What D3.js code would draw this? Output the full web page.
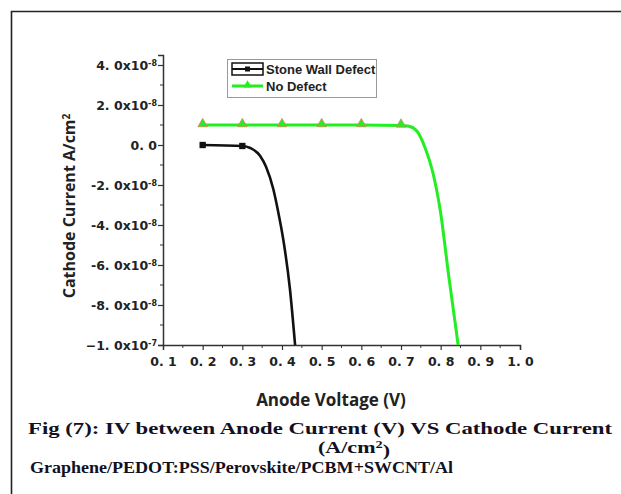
<!DOCTYPE html>
<html lang="en">
<head>
<meta charset="UTF-8">
<title>iv-curve</title>
<style>
  body { margin: 0; background: #fff; }
  svg { display: block; }
</style>
</head>
<body>
<div id="container"></div>
<script src="https://cdn.jsdelivr.net/npm/d3@7"></script>
<script>
// series data (voltage in V, current in A/cm^2)
var stoneVoltage = [0.2, 0.3, 0.32, 0.345, 0.36, 0.378, 0.39, 0.403, 0.42, 0.433];
var stoneCurrent = [0.0, -0.05e-8, -0.15e-8, -0.55e-8, -1.1e-8, -2.2e-8, -3.3e-8, -4.7e-8, -7.2e-8, -1.0e-7];
var stoneMarkers = [0.2, 0.3];

var noDefVoltage = [0.2, 0.3, 0.4, 0.5, 0.6, 0.7, 0.72, 0.74, 0.76, 0.78, 0.8, 0.82, 0.84, 0.844];
var noDefCurrent = [1.0e-8, 1.0e-8, 1.0e-8, 1.0e-8, 1.0e-8, 0.98e-8, 0.94e-8, 0.7e-8, -0.1e-8, -1.35e-8, -3.4e-8, -6.5e-8, -9.4e-8, -1.0e-7];
var noDefMarkers = [0.2, 0.3, 0.4, 0.5, 0.6, 0.7];

var xTicks = [0.1, 0.2, 0.3, 0.4, 0.5, 0.6, 0.7, 0.8, 0.9, 1.0];
var yTicks = [4e-8, 2e-8, 0, -2e-8, -4e-8, -6e-8, -8e-8, -1e-7];
var seriesNames = ["Stone Wall Defect", "No Defect"];

var W = 621, H = 494;
var svg = d3.select("#container").append("svg")
    .attr("width", W)
    .attr("height", H);

// frame (only top and left edges show)
svg.append("path")
    .attr("d", "M11.5," + H + "V11.5H" + W)
    .attr("fill", "none")
    .attr("stroke", "#222")
    .attr("stroke-width", 1.6);

var x = d3.scaleLinear().domain([0.1, 1.0]).range([163, 520]);
var y = d3.scaleLinear().domain([-1e-7, 4.5e-8]).range([345, 55]);

// minor ticks
var xMinor = d3.range(0.15, 1.0, 0.1);
var yMinor = [3e-8, 1e-8, -1e-8, -3e-8, -5e-8, -7e-8, -9e-8];

var xAxis = svg.append("g")
    .attr("transform", "translate(0," + y.range()[0] + ")")
    .call(d3.axisBottom(x).tickValues(xTicks).tickSize(5).tickPadding(7)
      .tickFormat(function(d) { return d.toFixed(1).replace(".", ". "); }));
xAxis.selectAll(".tick").filter(function(d) { return d === 0.1; }).select("line").remove();
xAxis.append("g").selectAll("line").data(xMinor).enter().append("line")
    .attr("x1", function(d) { return x(d); }).attr("x2", function(d) { return x(d); })
    .attr("y1", 0).attr("y2", 3)
    .attr("stroke", "#333");

var yAxis = svg.append("g")
    .attr("transform", "translate(" + x.range()[0] + ",0)")
    .call(d3.axisLeft(y).tickValues(yTicks).tickSize(5).tickPadding(3).tickFormat(""));
yAxis.append("g").selectAll("line").data(yMinor).enter().append("line")
    .attr("y1", function(d) { return y(d); }).attr("y2", function(d) { return y(d); })
    .attr("x1", 0).attr("x2", -3)
    .attr("stroke", "#333");

[xAxis, yAxis].forEach(function(a) {
  a.select(".domain").attr("stroke", "#333").attr("stroke-width", 1.5);
  a.selectAll(".tick line").attr("stroke", "#333").attr("stroke-width", 1.2);
  a.selectAll("text")
      .attr("font-family", "DejaVu Sans, sans-serif")
      .attr("font-weight", "bold")
      .attr("font-size", 12.5)
      .attr("fill", "#222")
      .style("white-space", "pre");
});

// y tick labels with superscript exponents
yAxis.selectAll(".tick text").each(function(d) {
  var t = d3.select(this).attr("x", -6).attr("dy", "0.32em");
  if (d === 0) { t.text("0. 0"); return; }
  var e = Math.floor(Math.log10(Math.abs(d)) + 1e-9);
  var m = d / Math.pow(10, e);
  var ms = Math.abs(m).toFixed(1).replace(".", ". ");
  t.append("tspan").text((m < 0 ? (e === -7 ? "\u2212" : "-") : "") + ms + "x10");
  t.append("tspan").attr("dy", "-0.5em").attr("font-size", 8).text(String(e));
});

// axis titles
svg.append("text")
    .attr("transform", "translate(75,206) rotate(-90)")
    .attr("text-anchor", "middle")
    .attr("font-family", "Open Sans, sans-serif")
    .attr("font-weight", "bold")
    .attr("font-size", 16)
    .attr("fill", "#222")
    .text("Cathode Current A/cm")
  .append("tspan")
    .attr("dy", "-0.5em")
    .attr("font-size", 10)
    .text("2");

svg.append("text")
    .attr("x", 331)
    .attr("y", 406)
    .attr("text-anchor", "middle")
    .attr("font-family", "Open Sans, sans-serif")
    .attr("font-weight", "bold")
    .attr("font-size", 17)
    .attr("fill", "#222")
    .text("Anode Voltage (V)");

// curves
var line = d3.line()
    .x(function(d) { return x(d[0]); })
    .y(function(d) { return y(d[1]); })
    .curve(d3.curveMonotoneX);

var stone = d3.zip(stoneVoltage, stoneCurrent);
var noDef = d3.zip(noDefVoltage, noDefCurrent);

svg.append("path").datum(noDef)
    .attr("d", line)
    .attr("fill", "none")
    .attr("stroke", "#22ee22")
    .attr("stroke-width", 3);

svg.append("path").datum(stone)
    .attr("d", line)
    .attr("fill", "none")
    .attr("stroke", "#111")
    .attr("stroke-width", 2.6);

var tri = d3.symbol().type(d3.symbolTriangle).size(40);
var sq = d3.symbol().type(d3.symbolSquare).size(40);

svg.append("g").selectAll("path")
    .data(noDefMarkers)
    .enter().append("path")
    .attr("transform", function(d) {
      var i = noDefVoltage.indexOf(d);
      return "translate(" + x(d) + "," + (y(noDefCurrent[i]) - 1) + ")";
    })
    .attr("d", tri)
    .attr("fill", "#22ee22")
    .attr("stroke", "#e08060")
    .attr("stroke-width", 0.8);

svg.append("g").selectAll("path")
    .data(stoneMarkers)
    .enter().append("path")
    .attr("transform", function(d) {
      var i = stoneVoltage.indexOf(d);
      return "translate(" + x(d) + "," + y(stoneCurrent[i]) + ")";
    })
    .attr("d", sq)
    .attr("fill", "#111");

// legend
var legend = svg.append("g").attr("transform", "translate(227,59)");
legend.append("rect")
    .attr("x", 0.5).attr("y", 0.5)
    .attr("width", 149).attr("height", 38)
    .attr("fill", "#fff")
    .attr("stroke", "#999")
    .attr("stroke-width", 1);

var entries = legend.selectAll(".entry")
    .data(seriesNames)
    .enter().append("g")
    .attr("transform", function(d, i) { return "translate(0," + (10 + i * 17) + ")"; });

entries.filter(function(d, i) { return i === 0; }).append("rect")
    .attr("x", 5).attr("y", -6)
    .attr("width", 31).attr("height", 12)
    .attr("fill", "none")
    .attr("stroke", "#111")
    .attr("stroke-width", 1.5);

entries.append("line")
    .attr("x1", 5).attr("x2", 36)
    .attr("y1", 0).attr("y2", 0)
    .attr("stroke", function(d, i) { return i === 0 ? "#111" : "#22ee22"; })
    .attr("stroke-width", function(d, i) { return i === 0 ? 2 : 3; });

entries.append("path")
    .attr("transform", function(d, i) { return "translate(20.5," + (i === 0 ? 0 : -1) + ")"; })
    .attr("d", function(d, i) { return i === 0 ? d3.symbol().type(d3.symbolSquare).size(25)() : d3.symbol().type(d3.symbolTriangle).size(30)(); })
    .attr("fill", function(d, i) { return i === 0 ? "#111" : "#22ee22"; });

entries.append("text")
    .attr("x", 39)
    .attr("dy", "0.35em")
    .attr("font-family", "Liberation Sans, Arial, sans-serif")
    .attr("font-weight", "bold")
    .attr("font-size", 13)
    .attr("fill", "#222")
    .text(function(d) { return d; });

// caption
var cap = svg.append("g")
    .attr("font-family", "Liberation Serif, Times New Roman, serif")
    .attr("font-weight", "bold")
    .attr("font-size", 17)
    .attr("fill", "#111122");

cap.append("text").attr("x", 28).attr("y", 434)
    .attr("textLength", 584).attr("lengthAdjust", "spacingAndGlyphs")
    .text("Fig (7): IV between Anode Current (V) VS Cathode Current");
var l2 = cap.append("text").attr("x", 318).attr("y", 453)
    .attr("textLength", 72).attr("lengthAdjust", "spacingAndGlyphs");
l2.append("tspan").text("(A/cm");
l2.append("tspan").attr("dy", "-0.45em").attr("font-size", 11).text("2");
l2.append("tspan").attr("dy", "0.45em").text(")");
cap.append("text").attr("x", 30).attr("y", 473)
    .attr("textLength", 423).attr("lengthAdjust", "spacingAndGlyphs")
    .text("Graphene/PEDOT:PSS/Perovskite/PCBM+SWCNT/Al");
</script>
</body>
</html>
